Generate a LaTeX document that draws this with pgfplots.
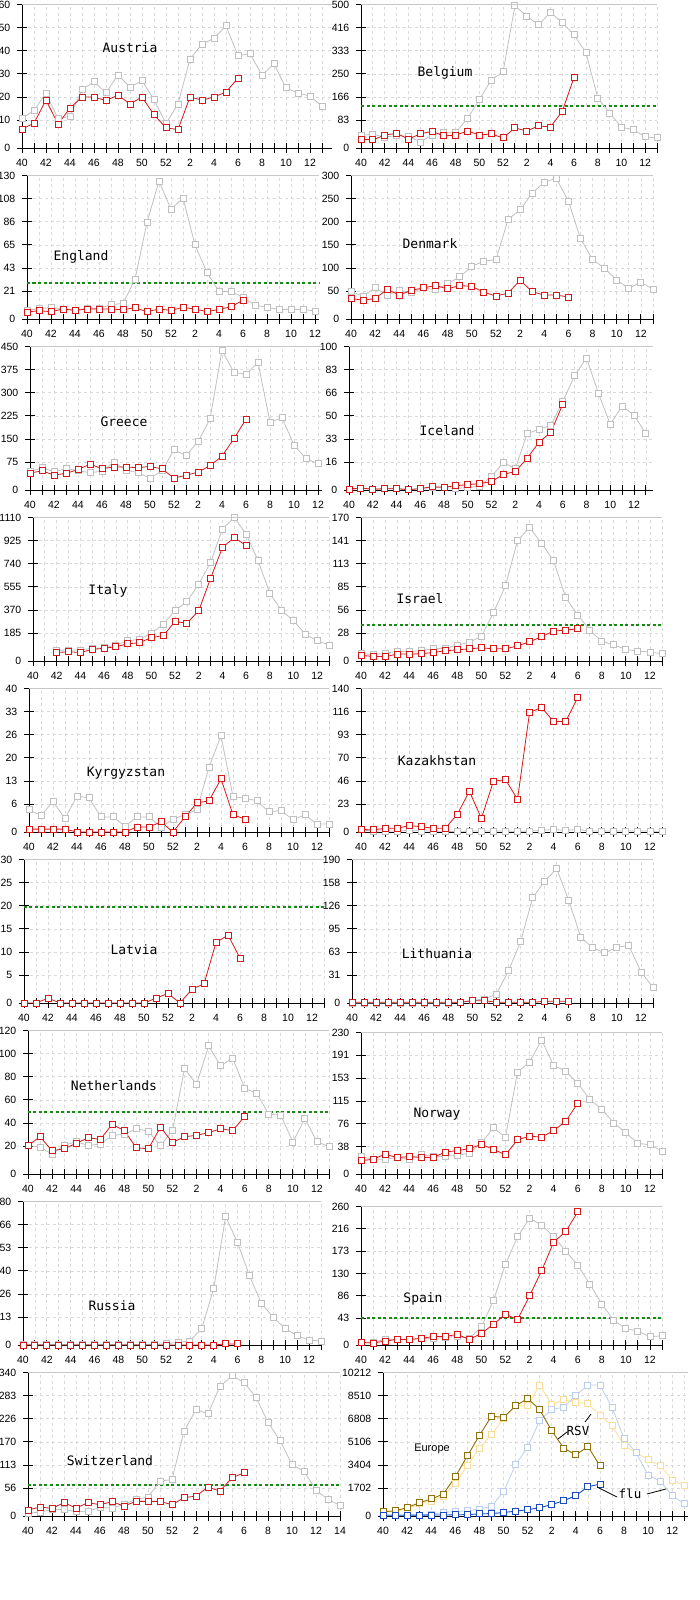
\documentclass[border=0pt]{standalone}
\usepackage{fontspec}
\setmainfont{Liberation Sans}
\newfontfamily\monof{DejaVu Sans Mono}
\usepackage{pgfplots}
\pgfplotsset{compat=1.18}
\definecolor{prevc}{RGB}{192,192,192}
\definecolor{curc}{RGB}{214,24,24}
\definecolor{thrc}{RGB}{20,140,20}
\definecolor{gridc}{RGB}{218,218,218}
\definecolor{topc}{RGB}{200,200,200}
\definecolor{rsvc}{RGB}{145,112,10}
\definecolor{rsvp}{RGB}{250,222,150}
\definecolor{fluc}{RGB}{25,75,190}
\definecolor{flup}{RGB}{188,206,240}
\pgfplotsset{
 yt/.code={\pgfmathsetmacro\ts{#1/6}\pgfmathsetmacro\ta{\ts*1.162}\pgfmathsetmacro\tb{\ts*2.129}\pgfmathsetmacro\tc{\ts*3.097}\pgfmathsetmacro\td{\ts*4.065}\pgfmathsetmacro\te{\ts*5.032}\pgfkeysalso{ymax=#1, ytick/.expanded={0,\ta,\tb,\tc,\td,\te,#1}}},
 panel/.style={
  scale only axis, anchor=south west, height=143.5pt,
  xmin=0, ymin=0,
  axis x line*=bottom, axis y line*=left,
  axis line style={-, black, line width=0.9pt},
  xtick={0,2,...,26}, minor xtick={1,3,...,25},
  xticklabels={40,42,44,46,48,50,52,2,4,6,8,10,12,14},
  scaled ticks=false,
  tick align=center, major tick length=10pt, minor tick length=10pt,
  tick style={black, line width=0.9pt}, minor tick style={black, line width=0.9pt},
  grid=both,
  major grid style={gridc, dash pattern=on 3pt off 3pt, line width=0.7pt},
  minor grid style={gridc, dash pattern=on 3pt off 3pt, line width=0.7pt},
  ticklabel style={font=\fontsize{10.5}{12}\selectfont},
  yticklabel style={xshift=-4pt, inner xsep=2.5pt},
  xticklabel style={yshift=-3pt},
  clip=false,
  /pgf/number format/assume math mode=true,
  extra description/.code={\draw[topc, line width=0.9pt] (0,1) -- (1,1);},
 },
 prev/.style={color=prevc, line width=0.8pt, mark=square*, mark size=3pt, mark options={fill=white, line width=0.9pt, solid}},
 cur/.style={color=curc, line width=0.8pt, mark=square*, mark size=3pt, mark options={fill=white, line width=0.9pt, solid}},
 thr/.style={color=thrc, line width=2pt, dash pattern=on 3pt off 2.5pt, mark=none},
}
\newcommand{\cname}[3]{\node[font=\monof\fontsize{13}{15}\selectfont] at (#1pt,#2pt) {#3};}
\begin{document}
\begin{tikzpicture}
\path[use as bounding box] (0pt,0pt) rectangle (700pt,1600pt);
% ---------- Row 1
\begin{axis}[panel, at={(22pt,1452pt)}, xmax=25.8, width=309.6pt, yt=60, yticklabels={0,10,20,30,40,50,60}]
\addplot[prev] coordinates {(0,12.5)(1,15.6)(2,23.0)(3,12.2)(4,13.2)(5,24.4)(6,27.7)(7,23.1)(8,30.5)(9,25.5)(10,28.1)(11,20.2)(12,10.2)(13,18.4)(14,37.2)(15,43.4)(16,45.9)(17,51.1)(18,38.6)(19,39.4)(20,30.5)(21,35.2)(22,25.1)(23,23.0)(24,21.7)(25,17.5)};
\addplot[cur] coordinates {(0,7.9)(1,10.4)(2,20.0)(3,10.0)(4,16.7)(5,21.3)(6,21.3)(7,19.8)(8,22.1)(9,18.4)(10,21.3)(11,13.9)(12,8.4)(13,7.7)(14,21.3)(15,20.0)(16,21.3)(17,23.4)(18,29.2)};
\end{axis}
\begin{axis}[panel, at={(361pt,1452pt)}, xmax=25, width=296pt, yt=500, yticklabels={0,83,166,250,333,416,500}]
\addplot[thr] coordinates {(0,145)(25,145)};
\addplot[prev] coordinates {(0,44)(1,48)(2,38)(3,43)(4,41)(5,21)(6,45)(7,53)(8,53)(9,104)(10,168)(11,237)(12,266)(13,495)(14,460)(15,429)(16,473)(17,436)(18,394)(19,332)(20,174)(21,122)(22,72)(23,64)(24,39)(25,35)};
\addplot[cur] coordinates {(0,31)(1,28)(2,45)(3,51)(4,31)(5,49)(6,58)(7,42)(8,45)(9,59)(10,45)(11,49)(12,35)(13,70)(14,59)(15,77)(16,73)(17,128)(18,247)};
\end{axis}
% ---------- Row 2
\begin{axis}[panel, at={(27pt,1281pt)}, xmax=24.3, width=291.6pt, yt=130, yticklabels={0,21,43,65,86,108,130}]
\addplot[thr] coordinates {(0,32.8)(24.3,32.8)};
\addplot[prev] coordinates {(0,7.8)(1,9.3)(2,10.5)(3,9.0)(4,8.1)(5,9.6)(6,9.6)(7,12.9)(8,14.1)(9,35.8)(10,87.6)(11,124.9)(12,99.3)(13,109.6)(14,67.1)(15,42.1)(16,25.0)(17,25.0)(18,19.6)(19,12.6)(20,10.5)(21,8.7)(22,8.7)(23,8.7)(24,7.2)};
\addplot[cur] coordinates {(0,6.3)(1,7.5)(2,6.6)(3,9.0)(4,7.8)(5,9.0)(6,9.0)(7,9.0)(8,8.4)(9,10.2)(10,6.6)(11,9.0)(12,7.8)(13,10.5)(14,9.0)(15,6.6)(16,8.7)(17,11.1)(18,16.9)};
\end{axis}
\begin{axis}[panel, at={(351pt,1281pt)}, xmax=25, width=302pt, yt=300, yticklabels={0,50,100,150,200,250,300}]
\addplot[prev] coordinates {(0,57)(1,48)(2,65)(3,50)(4,59)(5,55)(6,65)(7,61)(8,74)(9,88)(10,110)(11,121)(12,124)(13,208)(14,228)(15,263)(16,286)(17,294)(18,246)(19,168)(20,124)(21,106)(22,81)(23,64)(24,77)(25,62)};
\addplot[cur] coordinates {(0,43)(1,39)(2,43)(3,62)(4,50)(5,60)(6,65)(7,70)(8,63)(9,70)(10,68)(11,56)(12,48)(13,54)(14,81)(15,57)(16,50)(17,50)(18,46)};
\end{axis}
% ---------- Row 3
\begin{axis}[panel, at={(30pt,1110pt)}, xmax=24.3, width=291.6pt, yt=450, yticklabels={0,75,150,225,300,375,450}]
\addplot[prev] coordinates {(0,57)(1,70)(2,57)(3,67)(4,61)(5,54)(6,59)(7,87)(8,62.5)(9,54)(10,37.5)(11,60)(12,126)(13,108)(14,151)(15,223)(16,437.5)(17,369)(18,362.5)(19,400)(20,212.5)(21,227)(22,141)(23,98)(24,82)};
\addplot[cur] coordinates {(0,53)(1,60)(2,47)(3,52)(4,64)(5,81)(6,67)(7,72)(8,72)(9,70)(10,74)(11,66)(12,37.5)(13,46)(14,56)(15,76)(16,106)(17,161.5)(18,222)};
\end{axis}
\begin{axis}[panel, at={(349pt,1110pt)}, xmax=25.6, width=304pt, yt=100, yticklabels={0,16,33,50,66,83,100}]
\addplot[prev] coordinates {(0,0.5)(1,1)(2,0.5)(3,1)(4,1)(5,0.5)(6,1)(7,2)(8,1.5)(9,1.2)(10,1.6)(11,2.8)(12,9.3)(13,19.3)(14,14.7)(15,39.3)(16,42.3)(17,45.1)(18,61.6)(19,79.8)(20,91.9)(21,67.4)(22,45.8)(23,58.4)(24,52.1)(25,39.5)};
\addplot[cur] coordinates {(0,0.7)(1,1.4)(2,0.5)(3,0.9)(4,0.9)(5,0.2)(6,0.9)(7,2.3)(8,1.9)(9,3.0)(10,3.7)(11,4.4)(12,5.8)(13,10.9)(14,12.8)(15,22.1)(16,33.3)(17,40.2)(18,59.8)};
\end{axis}
% ---------- Row 4
\begin{axis}[panel, at={(33pt,939pt)}, xmax=25, width=296pt, yt=1110, yticklabels={0,185,370,555,740,925,1110}]
\addplot[prev] coordinates {(2,83)(3,85)(4,85)(5,98)(6,101)(7,124)(8,155)(9,168)(10,214)(11,284)(12,390)(13,459)(14,594)(15,764)(16,1020)(17,1110)(18,981)(19,779)(20,524)(21,390)(22,312)(23,206)(24,157)(25,124)};
\addplot[cur] coordinates {(2,65)(3,72)(4,65)(5,90)(6,98)(7,111)(8,132)(9,142)(10,181)(11,196)(12,305)(13,292)(14,390)(15,640)(16,878)(17,955)(18,893)};
\end{axis}
\begin{axis}[panel, at={(361pt,939pt)}, xmax=25, width=301pt, yt=170, yticklabels={0,28,56,85,113,141,170}]
\addplot[thr] coordinates {(0,42.8)(25,42.8)};
\addplot[prev] coordinates {(0,8.6)(1,7.8)(2,8.9)(3,11.7)(4,10.9)(5,12.4)(6,14.4)(7,15.2)(8,18.7)(9,22.2)(10,29.2)(11,57.2)(12,89.1)(13,142.6)(14,158.3)(15,139.3)(16,118.6)(17,75.1)(18,54.5)(19,36.6)(20,23.3)(21,19.1)(22,13.6)(23,11.7)(24,10.5)(25,8.6)};
\addplot[cur] coordinates {(0,6.6)(1,5.4)(2,5.1)(3,8.2)(4,8.2)(5,8.6)(6,10.1)(7,12.1)(8,13.2)(9,14.4)(10,15.6)(11,14.4)(12,14.4)(13,17.9)(14,22.6)(15,28.8)(16,35.4)(17,36.6)(18,38.1)};
\end{axis}
% ---------- Row 5
\begin{axis}[panel, at={(29pt,768pt)}, xmax=25, width=300pt, yt=40, yticklabels={0,6,13,20,26,33,40}]
\addplot[prev] coordinates {(0,6.2)(1,4.6)(2,8.5)(3,3.7)(4,10.0)(5,9.5)(6,4.2)(7,4.2)(8,1.6)(9,4.2)(10,4.2)(11,1.4)(12,3.5)(13,4.9)(14,6.2)(15,18.1)(16,26.8)(17,9.9)(18,9.4)(19,8.7)(20,5.6)(21,6.0)(22,3.4)(23,4.8)(24,2.2)(25,2.2)};
\addplot[cur] coordinates {(0,0.8)(1,0.8)(2,0.8)(3,0.8)(4,0)(5,0)(6,0)(7,0)(8,0)(9,1.4)(10,1.4)(11,2.8)(12,0)(13,4.2)(14,8.1)(15,8.7)(16,14.8)(17,4.8)(18,3.6)};
\end{axis}
\begin{axis}[panel, at={(361pt,768pt)}, xmax=25, width=301pt, yt=140, yticklabels={0,23,46,70,93,116,140}]
\addplot[prev] coordinates {(0,2)(1,1)(2,1)(3,1)(4,1.5)(5,1)(6,1)(7,0.5)(8,0.5)(9,1)(10,1)(11,1)(12,1)(13,0.5)(14,1)(15,1.5)(16,2.5)(17,1.5)(18,2.5)(19,1)(20,1)(21,1)(22,1)(23,1)(24,1)(25,0.5)};
\addplot[cur] coordinates {(0,2.6)(1,2.0)(2,3.6)(3,3.6)(4,6.2)(5,5.2)(6,3.6)(7,3.6)(8,17.3)(9,39.7)(10,13.3)(11,49.5)(12,51.1)(13,31.9)(14,116.6)(15,121.4)(16,107.8)(17,107.8)(18,131.2)};
\end{axis}
% ---------- Row 6
\begin{axis}[panel, at={(24pt,597pt)}, xmax=25, width=300pt, yt=30, yticklabels={0,5,10,15,20,25,30}]
\addplot[thr] coordinates {(0,20)(25,20)};
\addplot[cur] coordinates {(0,0)(1,0)(2,1.0)(3,0)(4,0)(5,0)(6,0)(7,0)(8,0)(9,0)(10,0)(11,1.0)(12,2.0)(13,0)(14,2.9)(15,4.0)(16,12.6)(17,14.2)(18,9.4)};
\end{axis}
\begin{axis}[panel, at={(352pt,597pt)}, xmax=25, width=301pt, yt=190, yticklabels={0,31,63,95,126,158,190}]
\addplot[prev] coordinates {(0,0)(1,0)(2,0)(3,0)(4,0)(5,0)(6,0)(7,0)(8,0)(9,1)(10,3.5)(11,5.3)(12,11.9)(13,42.9)(14,80.9)(15,139.2)(16,161.3)(17,177.6)(18,136.1)(19,87.1)(20,72.9)(21,66.3)(22,73.8)(23,76.0)(24,41.1)(25,20.8)};
\addplot[cur] coordinates {(0,0.9)(1,0.9)(2,0.9)(3,0.9)(4,0.9)(5,0.9)(6,0.9)(7,0.9)(8,0.9)(9,0.9)(10,3.1)(11,3.1)(12,0.9)(13,0.9)(14,0.9)(15,0.9)(16,2.2)(17,2.2)(18,2.2)};
\end{axis}
% ---------- Row 7
\begin{axis}[panel, at={(28pt,426pt)}, xmax=25, width=301pt, yt=120, yticklabels={0,20,40,60,80,100,120}]
\addplot[thr] coordinates {(0,52)(25,52)};
\addplot[prev] coordinates {(0,23.9)(1,22.5)(2,16.6)(3,23.9)(4,27.0)(5,23.9)(6,25.0)(7,32.3)(8,33.2)(9,37.9)(10,35.7)(11,23.6)(12,36.2)(13,88.0)(14,75.0)(15,107.1)(16,90.5)(17,96.9)(18,71.7)(19,67.4)(20,50.0)(21,49.2)(22,26.7)(23,46.4)(24,27.0)(25,22.8)};
\addplot[cur] coordinates {(0,23.6)(1,31.2)(2,19.4)(3,21.1)(4,25.6)(5,30.3)(6,28.9)(7,41.6)(8,36.2)(9,21.9)(10,21.1)(11,39.1)(12,26.4)(13,31.2)(14,32.3)(15,34.6)(16,37.9)(17,36.2)(18,48.3)};
\end{axis}
\begin{axis}[panel, at={(361pt,426pt)}, xmax=25, width=301pt, height=141.5pt, yt=230, yticklabels={0,38,76,115,153,191,230}]
\addplot[prev] coordinates {(0,28.4)(1,24.1)(2,24.1)(3,26.7)(4,24.1)(5,32.1)(6,28.4)(7,28.4)(8,30.5)(9,33.7)(10,50.8)(11,74.9)(12,59.9)(13,165.8)(14,181.9)(15,217.7)(16,176.5)(17,167.4)(18,147.1)(19,121.4)(20,105.4)(21,82.9)(22,66.9)(23,49.7)(24,47.6)(25,37.4)};
\addplot[cur] coordinates {(0,21.4)(1,24.1)(2,32.1)(3,26.7)(4,28.4)(5,26.7)(6,26.7)(7,35.8)(8,38.0)(9,41.2)(10,48.1)(11,40.1)(12,31.0)(13,55.6)(14,61.5)(15,59.9)(16,70.6)(17,85.6)(18,115.0)};
\end{axis}
% ---------- Row 8
\begin{axis}[panel, at={(23pt,255pt)}, xmax=25, width=298pt, yt=80, yticklabels={0,13,26,40,53,66,80}]
\addplot[prev] coordinates {(0,0.3)(1,0.3)(2,0.3)(3,0.3)(4,0.3)(5,0.3)(6,0.3)(7,0.3)(8,0.3)(9,0.3)(10,0.3)(11,0.3)(12,0.7)(13,1.5)(14,2.2)(15,9.3)(16,31.6)(17,71.6)(18,57.1)(19,38.5)(20,23.3)(21,15.3)(22,9.1)(23,5.2)(24,2.8)(25,2.2)};
\addplot[cur] coordinates {(0,0)(1,0)(2,0)(3,0)(4,0)(5,0)(6,0)(7,0)(8,0)(9,0)(10,0)(11,0)(12,0)(13,0)(14,0)(15,0)(16,0)(17,0.6)(18,0.6)};
\end{axis}
\begin{axis}[panel, at={(361pt,255pt)}, xmax=25, width=301pt, height=138.5pt, yt=260, yticklabels={0,43,86,130,173,216,260}]
\addplot[thr] coordinates {(0,50)(25,50)};
\addplot[prev] coordinates {(0,5)(1,5)(2,10.5)(3,10.5)(4,10.5)(5,12.4)(6,12.4)(7,14.2)(8,16.1)(9,12.4)(10,34)(11,83.6)(12,151.7)(13,203)(14,238)(15,225)(16,204)(17,176)(18,150)(19,114.5)(20,77)(21,46)(22,31)(23,26)(24,15.5)(25,17.3)};
\addplot[cur] coordinates {(0,4.9)(1,3.7)(2,7.4)(3,10.5)(4,10.5)(5,12.4)(6,16.1)(7,16.1)(8,19.8)(9,10.5)(10,21.7)(11,39.0)(12,57.6)(13,47.7)(14,92.1)(15,139.3)(16,193.1)(17,212.8)(18,250.0)};
\end{axis}
% ---------- Row 9
\begin{axis}[panel, at={(28pt,84pt)}, xmax=26, width=312pt, yt=340, yticklabels={0,56,113,170,226,283,340}]
\addplot[thr] coordinates {(0,74)(26,74)};
\addplot[prev] coordinates {(0,6.3)(1,9.4)(2,15.0)(3,15.7)(4,10.2)(5,11.8)(6,19.7)(7,18.9)(8,27.5)(9,39.4)(10,44.9)(11,82.6)(12,86.6)(13,200.7)(14,251.8)(15,242.4)(16,306.9)(17,332.1)(18,316.4)(19,281.0)(20,222.0)(21,178.7)(22,122.0)(23,106.2)(24,61.4)(25,39.4)(26,25.2)};
\addplot[cur] coordinates {(0,14.2)(1,21.2)(2,18.1)(3,31.5)(4,18.9)(5,31.5)(6,26.8)(7,33.8)(8,23.6)(9,34.6)(10,34.6)(11,34.6)(12,26.8)(13,43.3)(14,47.2)(15,68.5)(16,59.0)(17,90.5)(18,102.3)};
\end{axis}
\begin{axis}[panel, at={(383pt,84pt)}, xmax=25.3, width=305pt, yt=10212, yticklabels={0,1702,3404,5106,6808,8510,10212}]
\addplot[color=rsvp, line width=0.8pt, mark=square*, mark size=3pt, mark options={fill=white, line width=0.9pt, solid}] coordinates {(0,247)(1,321)(2,495)(3,865)(4,1063)(5,1410)(6,2300)(7,3586)(8,4822)(9,5812)(10,6924)(11,7839)(12,7839)(13,9323)(14,7913)(15,8284)(16,8087)(17,7988)(18,7172)(19,6430)(20,4995)(21,4501)(22,4006)(23,3586)(24,2547)(25,2176)};
\addplot[color=flup, line width=0.8pt, mark=square*, mark size=3pt, mark options={fill=white, line width=0.9pt, solid}] coordinates {(0,74)(1,74)(2,74)(3,74)(4,124)(5,247)(6,321)(7,371)(8,495)(9,692)(10,1731)(11,3660)(12,4872)(13,6800)(14,7592)(15,7740)(16,8581)(17,9323)(18,9323)(19,7716)(20,5490)(21,4501)(22,2893)(23,2473)(24,1434)(25,866)};
\addplot[color=rsvc, line width=0.9pt, mark=square*, mark size=3pt, mark options={fill=white, line width=1pt, solid}] coordinates {(0,297)(1,371)(2,594)(3,940)(4,1212)(5,1558)(6,2794)(7,4278)(8,5737)(9,7097)(10,7023)(11,7839)(12,8358)(13,7567)(14,6059)(15,4822)(16,4352)(17,4946)(18,3561)};
\addplot[color=fluc, line width=0.9pt, mark=square*, mark size=3pt, mark options={fill=white, line width=1pt, solid}] coordinates {(0,50)(1,50)(2,60)(3,60)(4,70)(5,70)(6,80)(7,100)(8,148)(9,173)(10,247)(11,346)(12,445)(13,593)(14,816)(15,1088)(16,1459)(17,2077)(18,2275)};
\end{axis}
% ---------- Names
\cname{130}{1552}{Austria}
\cname{445}{1527}{Belgium}
\cname{81}{1343}{England}
\cname{430}{1356}{Denmark}
\cname{124}{1178}{Greece}
\cname{447}{1169}{Iceland}
\cname{108}{1009}{Italy}
\cname{420}{1001}{Israel}
\cname{126}{827}{Kyrgyzstan}
\cname{437}{839}{Kazakhstan}
\cname{134}{650}{Latvia}
\cname{437}{646}{Lithuania}
\cname{114}{514}{Netherlands}
\cname{437}{486}{Norway}
\cname{112}{294}{Russia}
\cname{423}{301}{Spain}
\cname{110}{139}{Switzerland}
\node[font=\fontsize{11}{13}\selectfont] at (432pt,151pt) {Europe};
\node[font=\monof\fontsize{12.5}{14}\selectfont] at (578pt,169pt) {RSV};
\node[font=\monof\fontsize{12.5}{14}\selectfont] at (630pt,106pt) {flu};
\draw[black, line width=0.8pt] (558pt,161pt) -- (567pt,168pt);
\draw[black, line width=0.8pt] (585pt,178pt) -- (591pt,186pt);
\draw[black, line width=0.8pt] (597pt,113pt) -- (617pt,103pt);
\draw[black, line width=0.8pt] (647pt,106pt) -- (666pt,111pt);
\end{tikzpicture}
\end{document}
